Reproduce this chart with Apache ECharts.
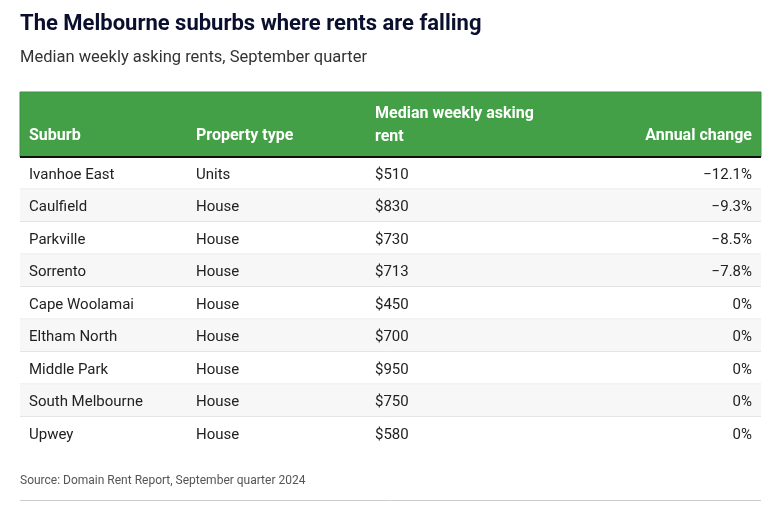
<!DOCTYPE html>
<html><head><meta charset="utf-8">
<script src="https://cdn.jsdelivr.net/npm/echarts@6/dist/echarts.min.js"></script>
<style>html,body{margin:0;padding:0;background:#fff}#c{width:783px;height:520px}</style>
</head><body><div id="c"></div>
<script>
var suburbs = ['Ivanhoe East','Caulfield','Parkville','Sorrento','Cape Woolamai','Eltham North','Middle Park','South Melbourne','Upwey'];
var propertyTypes = ['Units','House','House','House','House','House','House','House','House'];
var rents = [510,830,730,713,450,700,950,750,580];
var annualChange = [-12.1,-9.3,-8.5,-7.8,0,0,0,0,0];
var headers = ['Suburb','Property type','Median weekly asking\nrent','Annual change'];

var FONT = 'Roboto, "Noto Sans", sans-serif';
function fmtChange(v){ return v === 0 ? '0%' : (v < 0 ? '\u2212' : '') + Math.abs(v).toFixed(1) + '%'; }

var chart = echarts.init(document.getElementById('c'), null, {renderer:'canvas'});
var rows = suburbs.map(function(s,i){ return [0, i]; });
var colX = [9, 176, 355];

chart.setOption({
  animation:false,
  title:[
    {text:'The Melbourne suburbs where rents are falling', left:20, top:13, padding:0,
     textStyle:{fontFamily:FONT, fontWeight:'bold', fontSize:22, color:'#0b0f2e'}},
    {text:'Median weekly asking rents, September quarter', left:20, top:49, padding:0,
     textStyle:{fontFamily:FONT, fontWeight:'normal', fontSize:16.5, color:'#333'}},
    {text:'Source: Domain Rent Report, September quarter 2024', left:20, top:475, padding:0,
     textStyle:{fontFamily:FONT, fontWeight:'normal', fontSize:12, color:'#555'}}
  ],
  grid:{left:20, right:22, top:157, height:292.5},
  xAxis:{type:'value', min:0, max:1, show:false},
  yAxis:{type:'category', data:suburbs, inverse:true, show:false},
  graphic:[
    {type:'rect', shape:{x:20,y:92,width:741,height:65}, style:{fill:'#43a047', stroke:'#3a9040', lineWidth:1}, z:10},
    {type:'rect', shape:{x:20,y:156,width:741,height:2}, style:{fill:'#111'}, z:11},
    {type:'text', left:29, top:128, style:{text:headers[0], fill:'#fff', font:'bold 16px '+FONT}, z:12},
    {type:'text', left:196, top:128, style:{text:headers[1], fill:'#fff', font:'bold 16px '+FONT}, z:12},
    {type:'text', left:375, top:102, style:{text:headers[2], fill:'#fff', font:'bold 16px '+FONT, lineHeight:23}, z:12},
    {type:'text', right:31, top:128, style:{text:headers[3], fill:'#fff', font:'bold 16px '+FONT, align:'right'}, z:12},
    {type:'line', shape:{x1:20,y1:500.5,x2:761,y2:500.5}, style:{stroke:'#ccc', lineWidth:1}}
  ],
  series:[{
    type:'custom',
    data: rows,
    encode:{x:0, y:1},
    renderItem:function(params, api){
      var i = api.value(1);
      var c = api.coord([0, i]);
      var h = api.size([0, 1])[1];
      var cs = params.coordSys;
      var top = c[1] - h/2;
      var ty = c[1] + 1.5;
      var ts = {fill:'#222', font:'15px '+FONT, verticalAlign:'middle'};
      return {type:'group', children:[
        {type:'rect', shape:{x:cs.x, y:top, width:cs.width, height:h}, style:{fill: i%2 ? '#f7f7f7' : '#fff'}},
        {type:'line', shape:{x1:cs.x, y1:top+h-0.5, x2:cs.x+cs.width, y2:top+h-0.5}, style:{stroke: i===suburbs.length-1 ? 'rgba(0,0,0,0)' : '#e4e4e4', lineWidth:1}},
        {type:'text', style:Object.assign({text:suburbs[i], x:cs.x+colX[0], y:ty}, ts)},
        {type:'text', style:Object.assign({text:propertyTypes[i], x:cs.x+colX[1], y:ty}, ts)},
        {type:'text', style:Object.assign({text:'$'+rents[i], x:cs.x+colX[2], y:ty}, ts)},
        {type:'text', style:Object.assign({text:fmtChange(annualChange[i]), x:cs.x+cs.width-9, y:ty, align:'right'}, ts)}
      ]};
    }
  }]
});
</script></body></html>
